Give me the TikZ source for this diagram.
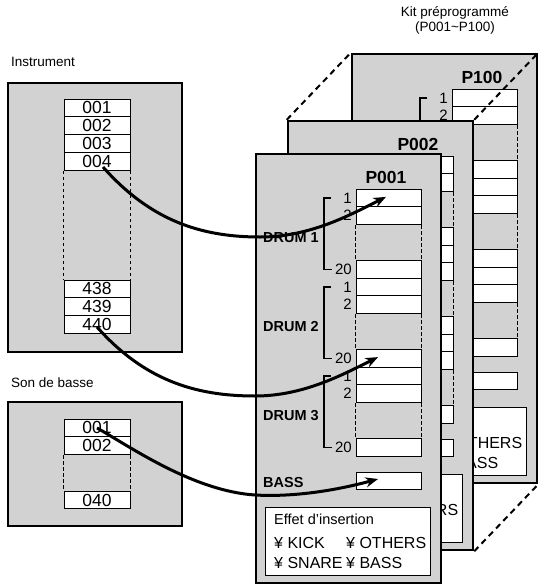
\documentclass[tikz,border=0pt]{standalone}
\usepackage{fontspec}
\setmainfont{Liberation Sans}
\usetikzlibrary{arrows.meta,calc}
\definecolor{panelgray}{RGB}{210,210,210}
\tikzset{
  graybox/.style={rectangle, draw=black, line width=2.5pt, fill=panelgray, inner sep=0pt},
  cell/.style={rectangle, draw=black, line width=0.9pt, fill=white, inner sep=0pt, minimum height=17.8pt},
  kitcell/.style={cell, minimum width=65pt},
  srccell/.style={cell, minimum width=66pt, font=\fontsize{17.5}{18}\selectfont},
  gapline/.style={line width=0.6pt, dash pattern=on 3.5pt off 2.5pt},
  plainlbl/.style={inner sep=0pt, font=\fontsize{13.5}{15.5}\selectfont},
  ttl/.style={inner sep=0pt, font=\fontsize{17.5}{18}\selectfont\bfseries},
  druml/.style={inner sep=0pt, anchor=west, font=\fontsize{14.5}{15}\selectfont\bfseries},
  numl/.style={inner sep=0pt, anchor=east, font=\fontsize{15}{15}\selectfont},
  bracketline/.style={line width=1.2pt},
  effbox/.style={rectangle, draw=black, line width=0.9pt, fill=white, inner sep=0pt, minimum width=165pt, minimum height=68pt},
  efftxt/.style={inner sep=0pt, anchor=west, font=\fontsize{16}{16}\selectfont},
  effttl/.style={inner sep=0pt, anchor=west, font=\fontsize{14.5}{15}\selectfont},
  stackline/.style={line width=2pt, dash pattern=on 6pt off 4.5pt},
  linkarrow/.style={line width=3pt, -{Stealth[length=12.5pt,width=10pt]}},
}
\newcommand\kitpanel[3]{%
\begin{scope}[shift={(#1,#2)}]
  \node[graybox, minimum width=185pt, minimum height=429pt] (#3box) at (348.5,368.5) {};
  \node[ttl] (#3ttl) at (386,177) {#3};
  \foreach \g in {1,2,3} {
    \pgfmathsetmacro\base{189+89*(\g-1)}
    \node[kitcell] (#3g\g a) at (388.5,\base+8.9) {};
    \node[kitcell] (#3g\g b) at (388.5,\base+26.7) {};
    \node[kitcell] (#3g\g t) at (388.5,\base+80.1) {};
    \draw[gapline] (#3g\g b.south west) -- (#3g\g t.north west);
    \draw[gapline] (#3g\g b.south east) -- (#3g\g t.north east);
    \draw[bracketline] (331,\base+8.9) -- (324,\base+8.9) -- (324,\base+80.1) -- (332,\base+80.1);
    \node[numl] (#3n\g a) at (352,\base+8.9) {1};
    \node[numl] (#3n\g b) at (352,\base+26.7) {2};
    \node[numl] (#3n\g t) at (352,\base+80.1) {20};
    \node[druml] (#3d\g) at (263,\base+49) {DRUM \g};
  }
  \node[druml] (#3bass) at (263,483) {BASS};
  \node[kitcell] (#3bc) at (388.5,481) {};
  \node[effbox] (#3eff) at (347.5,541) {};
  \node[effttl] (#3et) at (274,519) {Effet d’insertion};
  \node[efftxt] (#3ea) at (274,543) {¥ KICK};
  \node[efftxt] (#3eb) at (346,543) {¥ OTHERS};
  \node[efftxt] (#3ec) at (274,563) {¥ SNARE};
  \node[efftxt] (#3ed) at (346,563) {¥ BASS};
\end{scope}}
\begin{document}
\begin{tikzpicture}[x=1pt,y=-1pt]
\useasboundingbox (0,0) rectangle (543,587);
\fill[white] (0,0) rectangle (543,587);
% kit label
\node[plainlbl, align=center] (kit) at (455,20.5) {Kit préprogrammé\\(P001\textasciitilde P100)};
% panels
\kitpanel{96}{-100}{P100}
\kitpanel{32}{-33}{P002}
\kitpanel{0}{0}{P001}
\draw[stackline] (P002box.north west) -- (P100box.north west);
\draw[stackline] (P002box.north east) -- (P100box.north east);
\draw[stackline] (P002box.south east) -- (P100box.south east);
% Instrument
\node[plainlbl, anchor=west] (instlbl) at (11,62) {Instrument};
\node[graybox, minimum width=174pt, minimum height=269pt] (instbox) at (95,217.5) {};
\node[srccell] (i001) at (97,107.9) {001};
\node[srccell] (i002) at (97,125.7) {002};
\node[srccell] (i003) at (97,143.5) {003};
\node[srccell] (i004) at (97,161.3) {004};
\node[srccell] (i438) at (97,288.9) {438};
\node[srccell] (i439) at (97,306.7) {439};
\node[srccell] (i440) at (97,324.5) {440};
\draw[gapline] (i004.south west) -- (i438.north west);
\draw[gapline] (i004.south east) -- (i438.north east);
% Son de basse
\node[plainlbl, anchor=west] (basslbl) at (11,383) {Son de basse};
\node[graybox, minimum width=174pt, minimum height=124pt] (bassbox) at (95,464) {};
\node[srccell] (b001) at (97,427.9) {001};
\node[srccell] (b002) at (97,445.7) {002};
\node[srccell] (b040) at (97,500) {040};
\draw[gapline] (b002.south west) -- (b040.north west);
\draw[gapline] (b002.south east) -- (b040.north east);
% arrows
\draw[linkarrow] ($(i004.center)+(6,5.7)$) .. controls (150,220) and (200,237) .. (260,237) .. controls (310,237) and (350,215) .. ($(P001g1a.center)+(-2.5,-1)$);
\draw[linkarrow] ($(i440.center)+(0,2.5)$) .. controls (144,380) and (195,396) .. (255,396) .. controls (303,396) and (342,375) .. ($(P001g2t.center)+(-10.5,-1)$);
\draw[linkarrow] (b001.center) .. controls (135,450) and (195,491) .. (255,495) .. controls (300,497.5) and (345,488) .. ($(P001bc.center)+(-10.5,-2)$);
\end{tikzpicture}
\end{document}
